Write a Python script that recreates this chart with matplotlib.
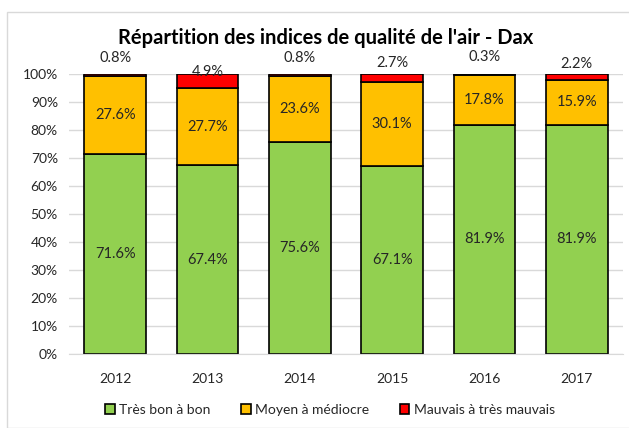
import matplotlib.pyplot as plt
from matplotlib.patches import Rectangle
import numpy as np

# Données
annees = ["2012", "2013", "2014", "2015", "2016", "2017"]
tres_bon = [71.6, 67.4, 75.6, 67.1, 81.9, 81.9]
moyen = [27.6, 27.7, 23.6, 30.1, 17.8, 15.9]
mauvais = [0.8, 4.9, 0.8, 2.7, 0.3, 2.2]
series = ["Très bon à bon", "Moyen à médiocre", "Mauvais à très mauvais"]

couleurs = ["#92D050", "#FFC000", "#FF0000"]
# décalage vertical des étiquettes rouges (en points de %), comme sur l'original
decal_rouge = [5.7, 0.7, 5.7, 3.9, 6.1, 3.6]

plt.rcParams['font.family'] = ['Lato', 'DejaVu Sans']

fig = plt.figure(figsize=(6.29, 4.28), dpi=100)
ax = fig.add_axes([69 / 629, 1 - 354 / 428, 554 / 629, 280 / 428])

# cadre du graphique
fig.patches.append(Rectangle((7 / 629, 0), 1.2, 1 - 12 / 428, transform=fig.transFigure,
                             fill=False, edgecolor="#D9D9D9", linewidth=1))

x = np.arange(len(annees))
larg = 0.67
bas = np.zeros(len(annees))
for vals, coul, nom in zip([tres_bon, moyen, mauvais], couleurs, series):
    ax.bar(x, vals, larg, bottom=bas, color=coul, edgecolor="black", linewidth=1.2,
           label=nom, zorder=3)
    bas = bas + np.array(vals)

# étiquettes
for i in range(len(annees)):
    ax.text(x[i], tres_bon[i] / 2, f"{tres_bon[i]:.1f}%", ha="center", va="center",
            fontsize=10.5, color="#262626", zorder=4)
    ax.text(x[i], tres_bon[i] + moyen[i] / 2, f"{moyen[i]:.1f}%", ha="center", va="center",
            fontsize=10.5, color="#262626", zorder=4)
    ax.text(x[i], 100 + decal_rouge[i], f"{mauvais[i]:.1f}%", ha="center", va="center",
            fontsize=10.5, color="#262626", zorder=4, clip_on=False)

ax.set_xlim(-0.5, len(annees) - 0.5)
ax.set_ylim(0, 100)
ax.set_yticks(range(0, 101, 10))
ax.set_yticklabels([f"{v}%" for v in range(0, 101, 10)])
ax.set_xticks(x)
ax.set_xticklabels(annees)
ax.tick_params(axis="both", length=0, labelsize=10, colors="#262626")
ax.tick_params(axis="x", pad=14)
ax.tick_params(axis="y", pad=8)
ax.yaxis.grid(True, color="#D9D9D9", linewidth=1, zorder=0)
for s in ["top", "right", "left"]:
    ax.spines[s].set_visible(False)
ax.spines["bottom"].set_color("#D9D9D9")
ax.spines["bottom"].set_zorder(5)

fig.text(326 / 629, 1 - 38 / 428, "Répartition des indices de qualité de l'air - Dax",
         ha="center", va="center", fontsize=14.5, fontweight="bold", color="black")

fig.legend(loc="center", bbox_to_anchor=(330 / 629, 1 - 410 / 428), ncol=3, frameon=False,
           fontsize=10, handlelength=0.7, handleheight=0.7, handletextpad=0.3,
           columnspacing=2.2, labelcolor="#262626")

fig.savefig("out.png", dpi=100)
